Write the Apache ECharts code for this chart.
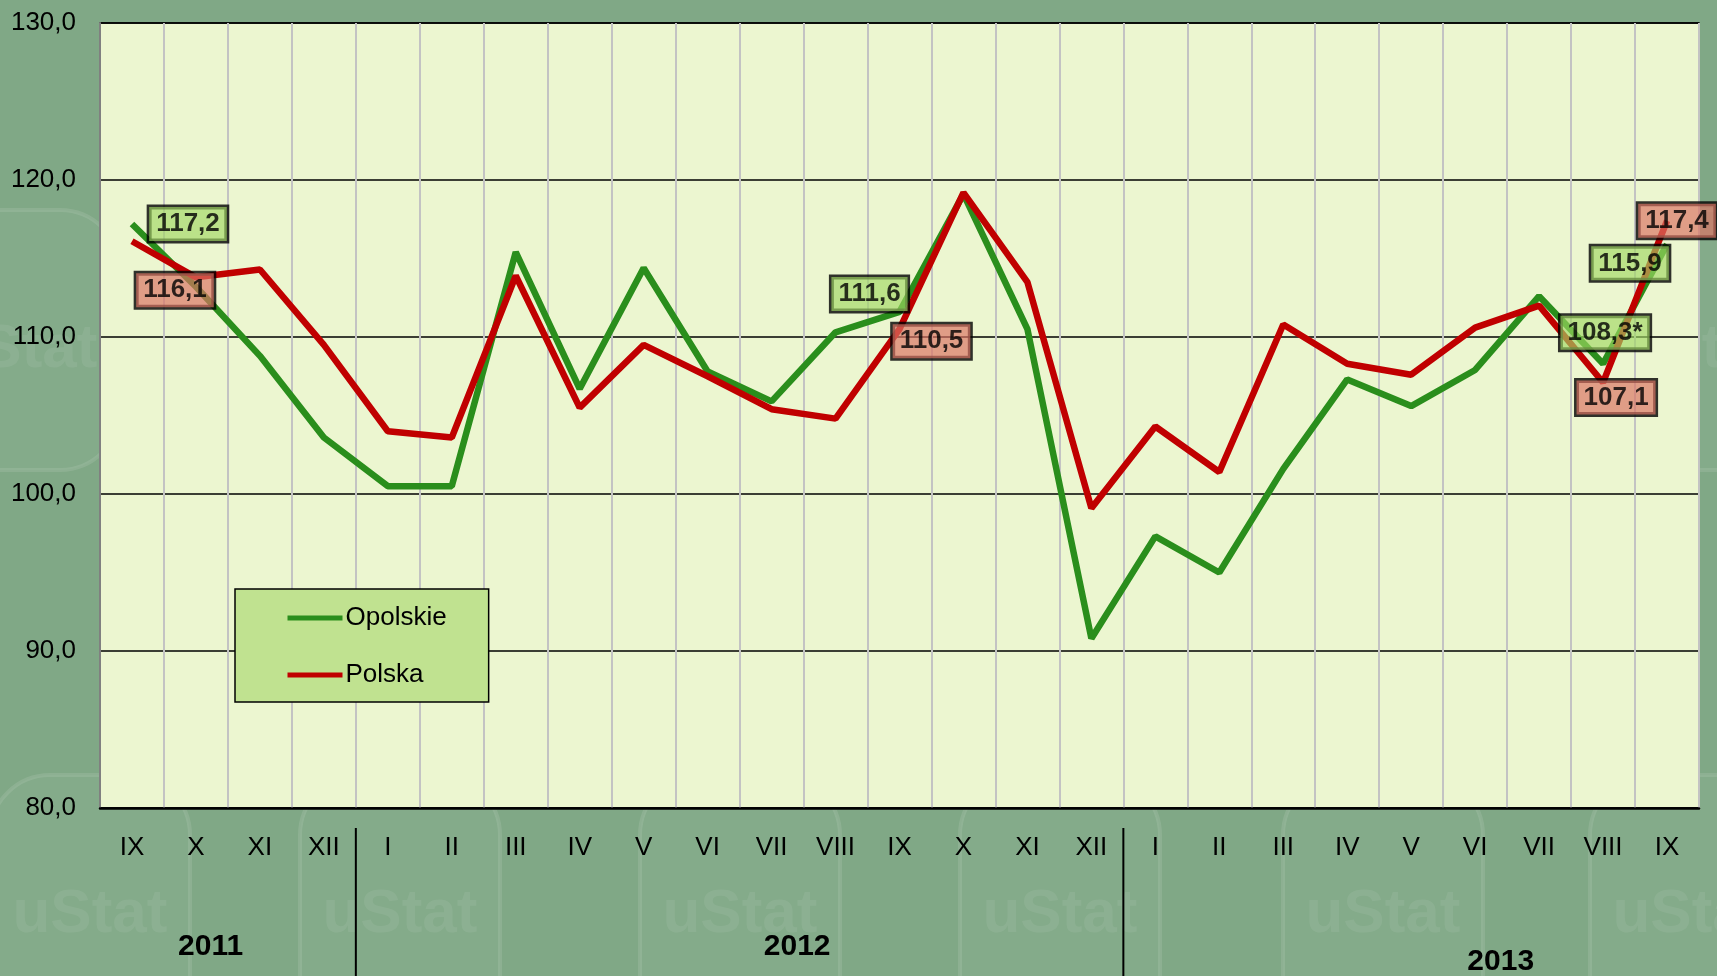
<!DOCTYPE html>
<html>
<head>
<meta charset="utf-8">
<title>Opolskie / Polska</title>
<script src="https://cdn.jsdelivr.net/npm/echarts@6/dist/echarts.min.js"></script>
<style>
  html, body { margin: 0; padding: 0; background: #80a886; }
  #main { width: 1717px; height: 976px; }
</style>
</head>
<body>
<div id="main"></div>
<script>
// 月份（罗马数字），2011-09 至 2013-09
const months = ['IX', 'X', 'XI', 'XII', 'I', 'II', 'III', 'IV', 'V', 'VI', 'VII', 'VIII',
  'IX', 'X', 'XI', 'XII', 'I', 'II', 'III', 'IV', 'V', 'VI', 'VII', 'VIII', 'IX'];
const years = ['2011', '2012', '2013'];

// 系列数据
const opolskie = [117.2, 113.2, 108.8, 103.6, 100.5, 100.5, 115.4, 106.7, 114.4, 107.8, 105.9, 110.3,
  111.6, 119.1, 110.5, 90.8, 97.3, 95.0, 101.6, 107.3, 105.6, 107.9, 112.6, 108.3, 115.9];
const polska = [116.1, 113.8, 114.3, 109.5, 104.0, 103.6, 113.9, 105.5, 109.5, 107.5, 105.4, 104.8,
  110.5, 119.2, 113.5, 99.1, 104.3, 101.4, 110.8, 108.3, 107.6, 110.6, 112.0, 107.1, 117.4];

// 带标注的点（索引）及其文本
const opolskieMarked = [0, 12, 23, 24];
const opolskieMarkText = ['117,2', '111,6', '108,3*', '115,9'];
const polskaMarked = [0, 12, 23, 24];
const polskaMarkText = ['116,1', '110,5', '107,1', '117,4'];

// 标注框相对于点的偏移（像素）
const opolskieOffsets = [[56, 0], [-30, -18], [2, -31], [-37, 19]];
const polskaOffsets = [[43, 49], [32, 12], [13, 15], [10, 0]];

const FONT = '"Liberation Sans", Arial, sans-serif';
const GREEN = '#2a8e1c';
const RED = '#c00000';

function fmt(v) {
  return v.toFixed(1).replace('.', ',');
}

function buildMarks(idxs, values, texts, offsets, bg) {
  return idxs.map((idx, k) => ({
    value: [idx, values[idx]],
    label: {
      show: true,
      position: 'inside',
      offset: offsets[k],
      formatter: texts[k],
      fontFamily: FONT,
      fontSize: 26,
      fontWeight: 'bold',
      lineHeight: 28,
      color: '#000',
      textBorderWidth: 0,
      backgroundColor: bg,
      borderColor: '#000',
      borderWidth: 2.5,
      padding: [4, 7, 2, 7]
    }
  }));
}

const chart = echarts.init(document.getElementById('main'));

const option = {
  backgroundColor: '#80a886',
  animation: false,
  grid: {
    left: 100,
    right: 18,
    top: 23,
    bottom: 168,
    show: true,
    backgroundColor: '#ecf6d0',
    borderColor: '#000',
    borderWidth: 1.5
  },
  legend: {
    data: ['Opolskie', 'Polska'],
    orient: 'vertical',
    left: 235,
    top: 589,
    padding: [16, 42, 14, 50],
    itemGap: 31,
    itemWidth: 55,
    itemHeight: 24,
    backgroundColor: '#c0e290',
    borderColor: '#000',
    borderWidth: 1.5,
    borderRadius: 0,
    itemStyle: { opacity: 0 },
    lineStyle: { width: 5 },
    textStyle: { fontFamily: FONT, fontSize: 26, color: '#000', padding: [0, 0, 0, -2] }
  },
  xAxis: {
    type: 'category',
    data: months,
    boundaryGap: true,
    axisLine: { lineStyle: { color: '#000', width: 2.5 } },
    axisTick: { show: false },
    axisLabel: {
      interval: 0,
      margin: 27,
      fontFamily: FONT,
      fontSize: 26,
      color: '#000'
    },
    splitLine: { show: true, interval: 0, lineStyle: { color: '#c3c3c3', width: 2 } }
  },
  yAxis: {
    type: 'value',
    min: 80,
    max: 130,
    interval: 10,
    axisLine: { show: true, lineStyle: { color: '#808080', width: 2 } },
    axisTick: { show: false },
    axisLabel: {
      margin: 24,
      formatter: fmt,
      fontFamily: FONT,
      fontSize: 26,
      color: '#000'
    },
    splitLine: { lineStyle: { color: '#000', width: 1.5 } }
  },
  series: [
    {
      name: 'Opolskie',
      type: 'line',
      data: opolskie,
      symbol: 'none',
      color: GREEN,
      lineStyle: { color: GREEN, width: 6.5 },
      z: 3
    },
    {
      name: 'Polska',
      type: 'line',
      data: polska,
      symbol: 'none',
      color: RED,
      lineStyle: { color: RED, width: 6.5 },
      z: 4
    },
    {
      name: 'opolskie-labels',
      type: 'scatter',
      data: buildMarks(opolskieMarked, opolskie, opolskieMarkText, opolskieOffsets, 'rgba(160,216,100,0.82)'),
      symbolSize: 1,
      itemStyle: { color: 'transparent' },
      z: 10
    },
    {
      name: 'polska-labels',
      type: 'scatter',
      data: buildMarks(polskaMarked, polska, polskaMarkText, polskaOffsets, 'rgba(218,116,100,0.85)'),
      symbolSize: 1,
      itemStyle: { color: 'transparent' },
      z: 10
    }
  ]
};

chart.setOption(option);

// 背景水印（浅色圆角框 + uStat）
function watermarks() {
  const centers = [[90, 905], [400, 905], [740, 905], [1060, 905], [1383, 905], [1690, 905],
    [20, 340], [1700, 340]];
  const els = [];
  centers.forEach(c => {
    els.push({
      type: 'rect',
      shape: { x: c[0] - 100, y: c[1] - 130, width: 200, height: 260, r: 60 },
      style: { fill: 'rgba(255,255,255,0.035)', stroke: 'rgba(255,255,255,0.1)', lineWidth: 4 },
      z: -10,
      silent: true
    });
    els.push({
      type: 'text',
      x: c[0],
      y: c[1] + 10,
      style: {
        text: 'uStat',
        font: 'bold 62px ' + FONT,
        fill: 'rgba(255,255,255,0.07)',
        align: 'center',
        verticalAlign: 'middle'
      },
      z: -10,
      silent: true
    });
  });
  return els;
}

// 年份分隔线与年份文字，位置由类目轴换算
function drawYears() {
  const x0 = chart.convertToPixel({ xAxisIndex: 0 }, 0);
  const x1 = chart.convertToPixel({ xAxisIndex: 0 }, 1);
  const step = x1 - x0;
  const at = i => x0 + step * i;
  const sepIdx = [3.5, 15.5];
  const yearPos = [[1.23, 947], [10.4, 947], [21.4, 962]];
  const elements = watermarks();
  sepIdx.forEach(i => {
    elements.push({
      type: 'line',
      shape: { x1: at(i), y1: 828, x2: at(i), y2: 976 },
      style: { stroke: '#000', lineWidth: 2 },
      silent: true
    });
  });
  years.forEach((y, k) => {
    elements.push({
      type: 'text',
      x: at(yearPos[k][0]),
      y: yearPos[k][1],
      style: {
        text: y,
        font: 'bold 30px ' + FONT,
        fill: '#000',
        align: 'center',
        verticalAlign: 'middle'
      },
      silent: true
    });
  });
  chart.setOption({ graphic: { elements: elements } });
}
drawYears();

window.addEventListener('resize', () => {
  chart.resize();
  drawYears();
});
</script>
</body>
</html>
